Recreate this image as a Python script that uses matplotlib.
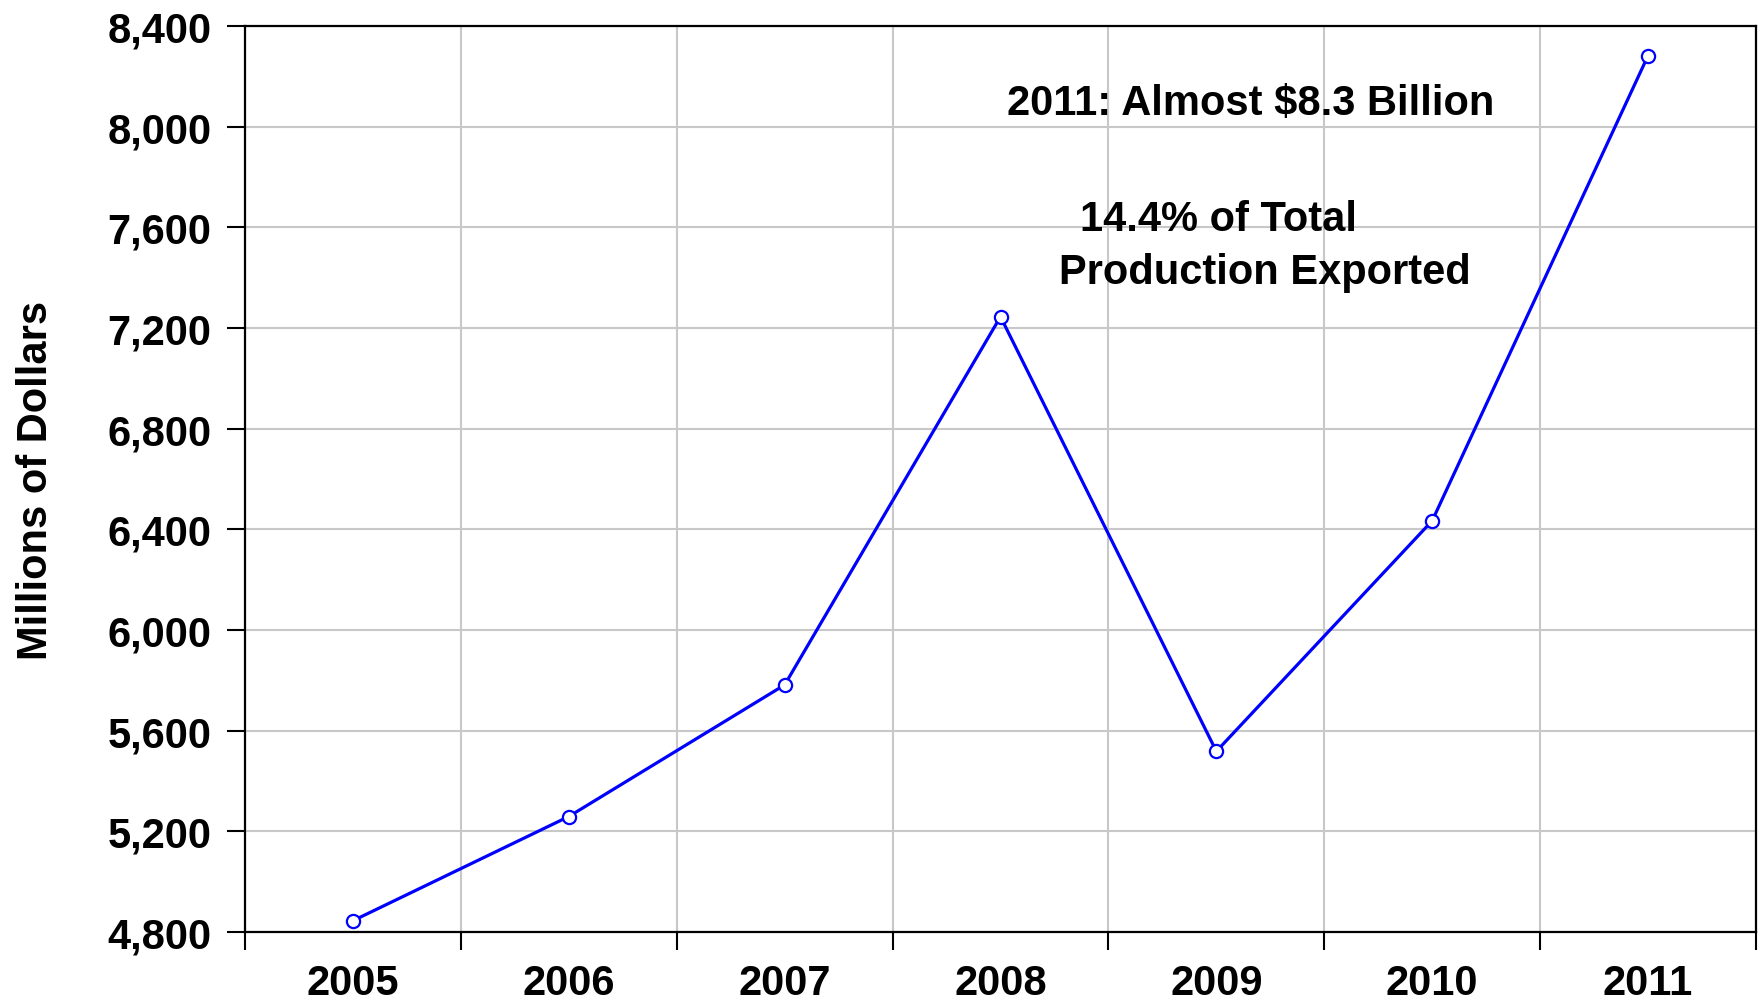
import matplotlib
matplotlib.use("Agg")
import matplotlib.pyplot as plt
from matplotlib.ticker import FuncFormatter, FixedLocator

plt.rcParams['font.family'] = ['Liberation Sans', 'DejaVu Sans']
plt.rcParams['font.weight'] = 'bold'

# datos
years = ['2005', '2006', '2007', '2008', '2009', '2010', '2011']
exports = [4845, 5259, 5782, 7245, 5518, 6434, 8282]
y_ticks = [4800, 5200, 5600, 6000, 6400, 6800, 7200, 7600, 8000, 8400]

fig = plt.figure(figsize=(17.63, 10.04), dpi=100)
ax = fig.add_axes([0.139, 0.0707, 0.857, 0.9024])

x = list(range(len(years)))
ax.plot(x, exports, color='#0000ff', linewidth=2.3, marker='o', markersize=9.5,
        markerfacecolor='white', markeredgecolor='#0000ff', markeredgewidth=1.6,
        zorder=3)

ax.set_xlim(-0.5, len(years) - 0.5)
ax.set_ylim(y_ticks[0], y_ticks[-1])

# eje x: etiquetas en el centro, marcas en los bordes de categoria
ax.set_xticks(x)
ax.set_xticklabels(years)
ax.xaxis.set_minor_locator(FixedLocator([i - 0.5 for i in range(len(years) + 1)]))
ax.tick_params(axis='x', which='major', length=0, pad=22, labelsize=30)
ax.tick_params(axis='x', which='minor', length=13, width=1.5, direction='out')

ax.set_yticks(y_ticks)
ax.yaxis.set_major_formatter(FuncFormatter(lambda v, p: f'{int(v):,}'))
ax.tick_params(axis='y', which='major', length=13, width=1.5, direction='out',
               pad=11, labelsize=30)

ax.grid(True, axis='y', which='major', color='#c8c8c8', linewidth=1.5)
ax.grid(True, axis='x', which='minor', color='#c8c8c8', linewidth=1.5)
ax.set_axisbelow(True)

for s in ax.spines.values():
    s.set_linewidth(1.6)
    s.set_color('black')

ax.set_ylabel('Millions of Dollars', fontsize=30, fontweight='bold')
ax.yaxis.set_label_coords(-0.125, 0.5)

ax.text(3.03, 8051, '2011: Almost $8.3 Billion', fontsize=30, fontweight='bold',
        ha='left', va='baseline')
ax.text(3.37, 7590, '14.4% of Total', fontsize=30, fontweight='bold',
        ha='left', va='baseline')
ax.text(3.27, 7379, 'Production Exported', fontsize=30, fontweight='bold',
        ha='left', va='baseline')

fig.savefig('out.png', dpi=100)
